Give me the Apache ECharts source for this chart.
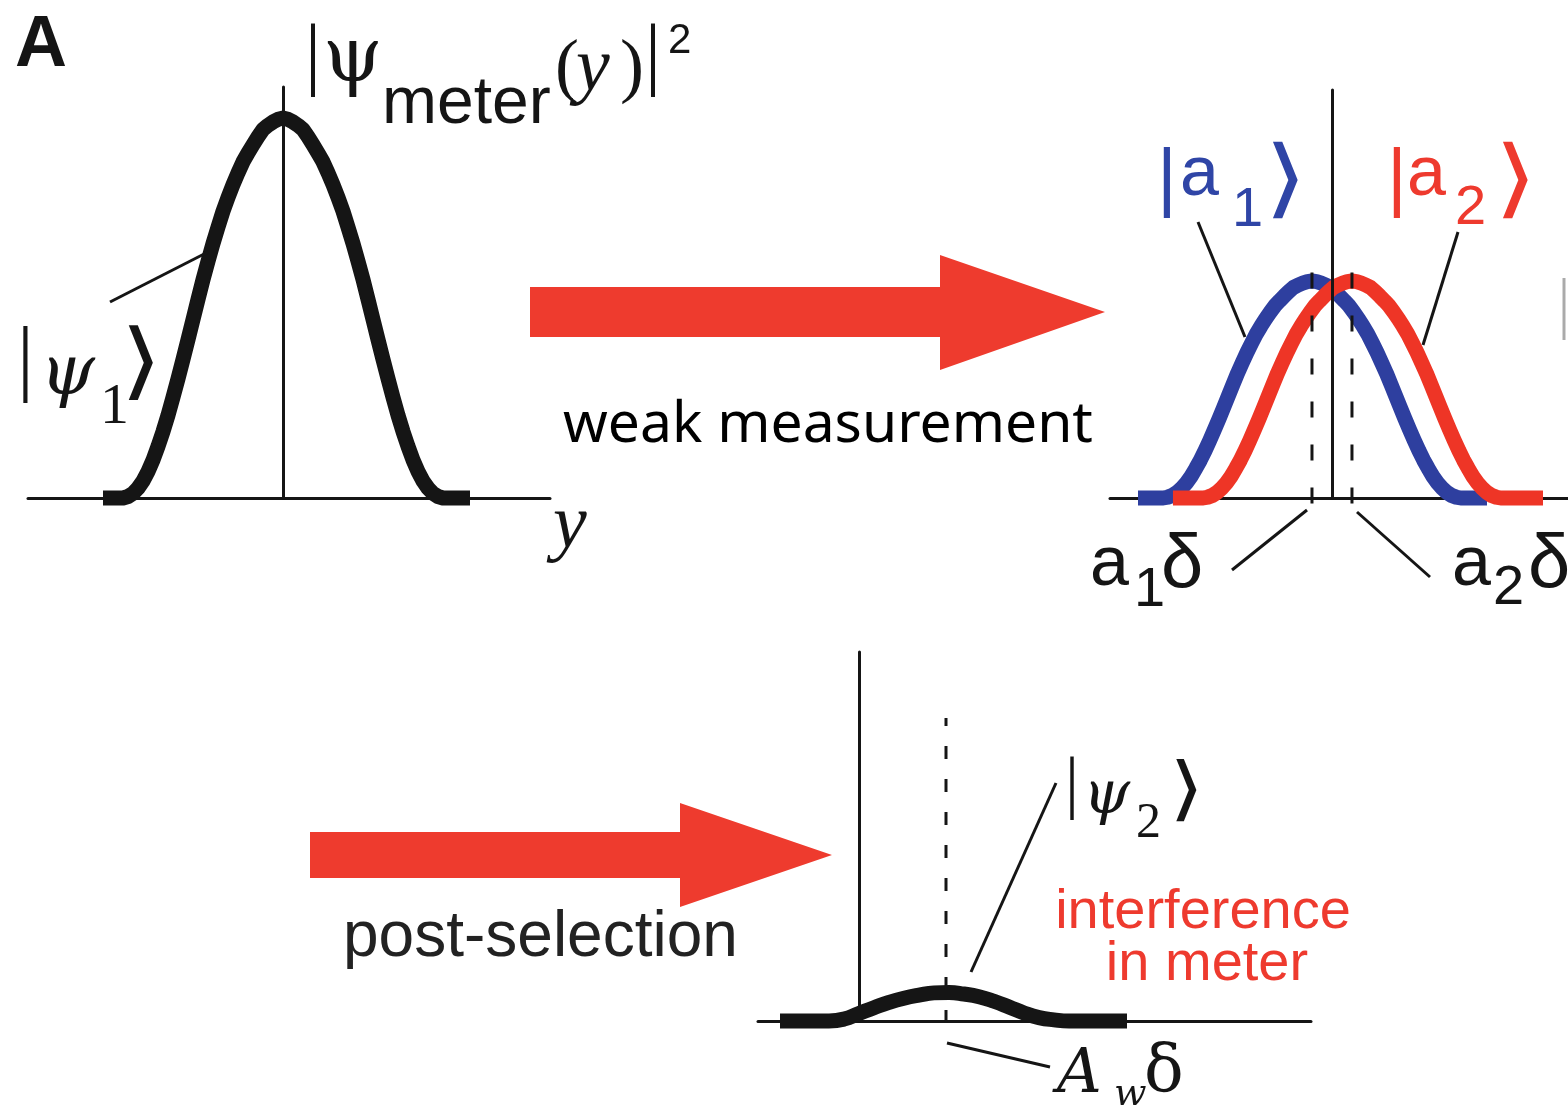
<!DOCTYPE html>
<html lang="en">
<head>
<meta charset="UTF-8">
<title>weak measurement</title>
<script src="https://cdn.jsdelivr.net/npm/echarts@6/dist/echarts.min.js"></script>
<style>
html, body { margin: 0; padding: 0; background: #fff; }
#main { width: 1568px; height: 1113px; }
</style>
</head>
<body>
<div id="main"></div>
<script>
// meter packet profile (offset from the packet centre, height relative to peak)
var packetOffset = [-16, -15.5, -15, -14.5, -14, -13.5, -13, -12.5, -12, -11.5, -11, -10.5, -10, -9.5, -9, -8.5,
                    -8, -7.5, -7, -6.5, -6, -5.5, -5, -4.5, -4, -3.5, -3, -2.5, -2, -1.5, -1, -0.5, 0,
                    0.5, 1, 1.5, 2, 2.5, 3, 3.5, 4, 4.5, 5, 5.5, 6, 6.5, 7, 7.5, 8,
                    8.5, 9, 9.5, 10, 10.5, 11, 11.5, 12, 12.5, 13, 13.5, 14, 14.5, 15, 15.5, 16];
var packetHeight = [0, 0.004, 0.012, 0.026, 0.045, 0.07, 0.10, 0.136, 0.175, 0.218, 0.265, 0.314, 0.365, 0.417, 0.47, 0.523,
                    0.575, 0.623, 0.67, 0.713, 0.755, 0.791, 0.825, 0.856, 0.885, 0.908, 0.93, 0.951, 0.97, 0.981, 0.99, 0.997, 1,
                    0.997, 0.99, 0.981, 0.97, 0.951, 0.93, 0.908, 0.885, 0.856, 0.825, 0.791, 0.755, 0.713, 0.67, 0.623, 0.575,
                    0.523, 0.47, 0.417, 0.365, 0.314, 0.265, 0.218, 0.175, 0.136, 0.10, 0.07, 0.045, 0.026, 0.012, 0.004, 0];

// panel 1 (1 unit = 10px): where the flat tails of the packet start and end
var meterTails = [-18.0, 18.7];

// panel 2 (1 unit = 9.3px): packets displaced by a1*delta and a2*delta
var shiftX = [-2.15, 2.15];
var blueTails = [-20.86, 16.67];
var redTails = [-17.1, 22.69];
var shiftSpan = [-0.025, 1.09];

// panel 3 (1 unit = 10px): meter after post-selection
var postX = [-7.9, -3.0, -1.5, 0, 1.5, 3.0, 4.5, 6.0, 7.5, 9.0, 10.5, 12.0, 13.5, 15.0, 16.5, 18.0, 19.5, 21.0, 26.8];
var postY = [0, 0, 0.005, 0.02, 0.035, 0.049, 0.06, 0.068, 0.074, 0.075, 0.071, 0.064, 0.052, 0.037, 0.021, 0.009, 0.003, 0, 0];
var weakX = [8.7];                 // A_w*delta
var weakSpan = [-0.005, 0.797];

var INK = '#151515', BLUE = '#2E3F9F', RED = '#EE3526';
var SANS = 'Liberation Sans', SERIF = 'Liberation Serif', GREEK = 'DejaVu Serif';

var chart = echarts.init(document.getElementById('main'));

function packet(shift, tails) {
    var pts = [[tails[0], 0]];
    packetOffset.forEach(function (o, i) { pts.push([shift + o, packetHeight[i]]); });
    pts.push([tails[1], 0]);
    return pts;
}

function pairs(xs, ys) {
    return xs.map(function (x, i) { return [x, ys[i]]; });
}

function curve(data, idx, color, z, smooth) {
    return {
        type: 'line', xAxisIndex: idx, yAxisIndex: idx,
        data: data,
        smooth: smooth || false,
        symbol: 'none', clip: false, silent: true, z: z,
        lineStyle: { color: color, width: 15, cap: 'butt', join: 'round' }
    };
}

function dashed(x, span, idx, dash) {
    return {
        type: 'line', xAxisIndex: idx, yAxisIndex: idx,
        data: [[x, span[0]], [x, span[1]]],
        symbol: 'none', clip: false, silent: true, z: 6,
        lineStyle: { color: INK, width: 3, type: dash }
    };
}

function xAx(idx, min, max) {
    return {
        type: 'value', gridIndex: idx, min: min, max: max,
        axisLine: { onZero: false, lineStyle: { color: INK, width: 3 } },
        axisTick: { show: false }, axisLabel: { show: false }, splitLine: { show: false }
    };
}

function yAx(idx, max) {
    return {
        type: 'value', gridIndex: idx, min: 0, max: max, z: 5,
        axisLine: { onZero: true, lineStyle: { color: INK, width: 3 } },
        axisTick: { show: false }, axisLabel: { show: false }, splitLine: { show: false }
    };
}

function txt(x, y, s, size, family, color, extra) {
    var st = {
        text: s, fontSize: size, fontFamily: family, fill: color || INK,
        align: 'left', verticalAlign: 'middle'
    };
    var el = { type: 'text', x: x, y: y, style: st, z: 10 };
    extra = extra || {};
    for (var k in extra) {
        if (k === 'scaleX') el.scaleX = extra[k];
        else st[k] = extra[k];
    }
    return el;
}

function seg(x1, y1, x2, y2, color) {
    return {
        type: 'line', shape: { x1: x1, y1: y1, x2: x2, y2: y2 },
        style: { stroke: color || INK, lineWidth: 3 }, z: 10
    };
}

var it = { fontStyle: 'italic' };
var ket = { fontFamily: 'DejaVu Sans', fontWeight: 200, align: 'center', scaleX: 1.3 };

var graphics = [
    // arrows
    { type: 'polygon', shape: { points: [[530, 287], [940, 287], [940, 255], [1105, 312], [940, 370], [940, 337], [530, 337]] }, style: { fill: '#EE3B2E' } },
    { type: 'polygon', shape: { points: [[310, 832], [680, 832], [680, 803], [832, 855], [680, 907], [680, 878], [310, 878]] }, style: { fill: '#EE3B2E' } },

    txt(15, 46, 'A', 72, SANS, INK, { fontWeight: 'bold' }),

    // |psi_meter(y)|^2
    txt(305, 59, '|', 80, SERIF),
    txt(323, 61, 'ψ', 76, GREEK),
    txt(382, 105, 'meter', 66, SANS),
    txt(555, 70, '(', 72, SERIF),
    txt(576, 70, 'y', 76, SERIF, INK, it),
    txt(620, 70, ')', 72, SERIF),
    txt(645, 59, '|', 80, SERIF),
    txt(668, 41, '2', 42, SANS),

    // |psi_1>
    txt(17, 363, '|', 84, SERIF),
    txt(40, 376, 'ψ', 70, GREEK, INK, it),
    txt(100, 408, '1', 58, SERIF),
    txt(141, 367, '⟩', 84, SERIF, INK, ket),
    seg(110, 302, 208, 252),
    txt(553, 527, 'y', 76, SERIF, INK, it),

    txt(563, 426, 'weak measurement', 57, 'Noto Sans', '#000'),

    // |a1>, |a2>
    txt(1157, 181, '|', 76, SANS, '#2F45A6'),
    txt(1180, 176, 'a', 70, SANS, '#2F45A6'),
    txt(1232, 211, '1', 56, SANS, '#2F45A6'),
    txt(1286, 185, '⟩', 86, SANS, '#2F45A6', ket),
    txt(1387, 181, '|', 76, SANS, '#EE3A2E'),
    txt(1407, 176, 'a', 70, SANS, '#EE3A2E'),
    txt(1455, 209, '2', 56, SANS, '#EE3A2E'),
    txt(1516, 185, '⟩', 86, SANS, '#EE3A2E', ket),
    seg(1198, 222, 1245, 337),
    seg(1458, 232, 1423, 345),

    // a1 delta, a2 delta
    txt(1090, 566, 'a', 70, SANS),
    txt(1134, 591, '1', 56, SANS),
    txt(1161, 566, 'δ', 76, SANS),
    txt(1452, 566, 'a', 70, SANS),
    txt(1493, 589, '2', 56, SANS),
    txt(1528, 566, 'δ', 76, SANS),
    seg(1232, 570, 1307, 510),
    seg(1357, 512, 1430, 577),
    seg(1564, 278, 1564, 340, '#aaa'),

    // post-selection panel
    txt(343, 938, 'post-selection', 64, SANS, '#222'),
    txt(1065, 787, '|', 70, SERIF),
    txt(1083, 797, 'ψ', 60, GREEK, INK, it),
    txt(1136, 824, '2', 50, SERIF),
    txt(1187, 794, '⟩', 70, SERIF, INK, ket),
    seg(971, 972, 1056, 783),
    txt(1203, 913, 'interference', 56, SANS, '#EE3A2E', { align: 'center' }),
    txt(1207, 965, 'in meter', 56, SANS, '#EE3A2E', { align: 'center' }),
    txt(1057, 1076, 'A', 62, GREEK, INK, it),
    txt(1114, 1095, 'w', 38, GREEK, INK, it),
    txt(1144, 1074, 'δ', 66, GREEK),
    seg(947, 1043, 1050, 1067)
];

var option = {
    backgroundColor: '#fff',
    animation: false,
    grid: [
        { left: 28, top: 87, width: 522, height: 411 },
        { left: 1110, top: 90, width: 458, height: 408 },
        { left: 758, top: 652, width: 553, height: 369 }
    ],
    xAxis: [xAx(0, -25.5, 26.7), xAx(1, -23.87, 25.38), xAx(2, -10.1, 45.2)],
    yAxis: [yAx(0, 1.082), yAx(1, 1.88), yAx(2, 0.971)],
    series: [
        curve(packet(0, meterTails), 0, INK, 2),
        curve(packet(shiftX[0], blueTails), 1, BLUE, 2),
        curve(packet(shiftX[1], redTails), 1, RED, 3),
        dashed(shiftX[0], shiftSpan, 1, [16, 27]),
        dashed(shiftX[1], shiftSpan, 1, [16, 27]),
        curve(pairs(postX, postY), 2, INK, 2, 0.5),
        dashed(weakX[0], weakSpan, 2, [13, 20])
    ],
    graphic: graphics
};

chart.setOption(option);
</script>
</body>
</html>
